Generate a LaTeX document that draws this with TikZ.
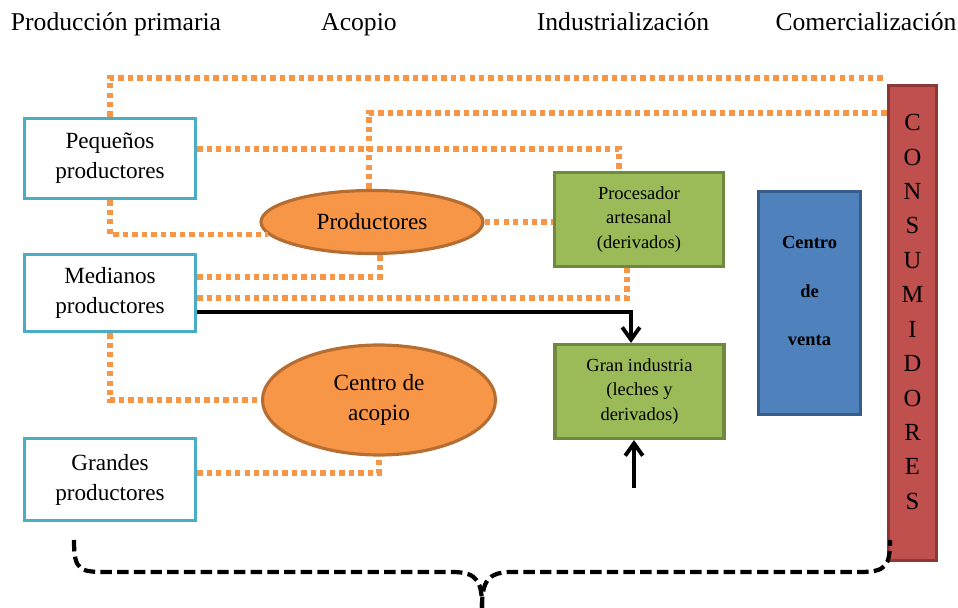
\documentclass[tikz,border=0pt]{standalone}
\usepackage{fontspec}
\setmainfont{Liberation Serif}
\usepackage{xcolor}
\usepackage{tikz}
\usetikzlibrary{arrows.meta,shapes.geometric,calc}

\definecolor{bordeAzul}{HTML}{4BACC6}
\definecolor{naranja}{HTML}{F79646}
\definecolor{bordeNaranja}{HTML}{B66D31}
\definecolor{verde}{HTML}{9BBB59}
\definecolor{bordeVerde}{HTML}{71893F}
\definecolor{azul}{HTML}{4F81BD}
\definecolor{bordeAzulOsc}{HTML}{385D8A}
\definecolor{rojo}{HTML}{C0504D}
\definecolor{bordeRojo}{HTML}{8C3836}

\begin{document}
\begin{tikzpicture}[x=0.02cm, y=-0.02cm,
    etapa/.style={anchor=base, font=\fontsize{14.6}{17}\selectfont},
    productor/.style={draw=bordeAzul, line width=1.8pt, fill=white, minimum width=3.42cm,
        inner sep=0pt, align=center, font=\fontsize{13.2}{17}\selectfont},
    acopio/.style={ellipse, draw=bordeNaranja, line width=1.8pt, fill=naranja, inner sep=0pt,
        align=center, font=\fontsize{13.2}{17.5}\selectfont},
    industria/.style={draw=bordeVerde, line width=1.8pt, fill=verde, minimum width=3.38cm,
        minimum height=1.88cm, inner sep=0pt, align=center, font=\fontsize{10.5}{13.8}\selectfont},
    flujo/.style={draw=naranja, line width=3.1pt, dash pattern=on 3.1pt off 2.3pt},
    directo/.style={draw=black, line width=2.2pt, -{Straight Barb[length=7pt,width=10pt]}}]
    \useasboundingbox (0,0) rectangle (958,608);
    % Etapas
    \node[etapa] (prim) at (116,31) {Producción primaria};
    \node[etapa] (acop) at (359,31) {Acopio};
    \node[etapa] (indu) at (623,31) {Industrialización};
    \node[etapa] (come) at (866,31) {Comercialización};
    % Productores
    \node[productor, minimum height=1.6cm] (peq) at (110,158.5) {Pequeños\\productores};
    \node[productor, minimum height=1.54cm] (med) at (110,293) {Medianos\\productores};
    \node[productor, minimum height=1.64cm] (gra) at (110,479.5) {Grandes\\productores};
    % Acopio
    \node[acopio, minimum width=4.44cm, minimum height=1.26cm] (prod) at (372,222) {Productores};
    \node[acopio, minimum width=4.66cm, minimum height=2.2cm] (cacop) at (379,400) {Centro de\\acopio};
    % Industria
    \node[industria] (proc) at (639,219.5) {Procesador\\artesanal\\(derivados)};
    \node[industria] (gran) at (639.5,391.5) {Gran industria\\(leches y\\derivados)};
    % Comercio
    \node[draw=bordeAzulOsc, line width=1.8pt, fill=azul, minimum width=2.04cm,
        minimum height=4.46cm] (venta) at (809.5,303) {};
    \node[align=center, font=\bfseries\fontsize{10.5}{27.6}\selectfont] (ventatxt)
        at ($(venta.center)+(0,-12)$) {Centro\\de\\venta};
    \node[draw=bordeRojo, line width=1.8pt, fill=rojo, minimum width=0.96cm,
        minimum height=9.5cm] (cons) at (912.5,323) {};
    \node[align=center, font=\fontsize{14}{19.6}\selectfont] (constxt)
        at ($(cons.center)+(0,-11)$) {C\\O\\N\\S\\U\\M\\I\\D\\O\\R\\E\\S};
    \coordinate (arriba) at ($(cons.north west)+(0,-6)$);
    \coordinate (segunda) at ($(cons.north west)+(0,29)$);
    \coordinate (abajo) at (634,488);
    % Edges
    % Pequeños to consumidores
    \draw[flujo] (peq.north) |- (arriba);
    % Productores to consumidores
    \draw[flujo] ($(prod.north)+(-3,0)$) |- (segunda);
    % Pequeños to procesador
    \draw[flujo] ($(peq.east)+(0,-9.5)$) -| ($(proc.north)+(-20,0)$);
    % Pequeños to productores
    \draw[flujo] (peq.south) |- (prod.187);
    % Productores to procesador
    \draw[flujo] (prod.east) -- (prod.east -| proc.west);
    % Medianos to productores
    \draw[flujo] ($(med.east)+(0,-16)$) -| (prod.284);
    % Medianos to procesador
    \draw[flujo] ($(med.east)+(0,5)$) -| ($(proc.south)+(-12,0)$);
    % Medianos to centro de acopio
    \draw[flujo] (med.south) |- (cacop.west);
    % Grandes to centro de acopio
    \draw[flujo] ($(gra.east)+(0,-6.5)$) -| (cacop.south);
    % Medianos to gran industria
    \draw[directo] ($(med.east)+(0,19)$) -| ($(gran.north)+(-8.5,0)$);
    % Into gran industria from below
    \draw[directo] (abajo) -- (abajo |- gran.south);
    % Brace
    \draw[line width=2.4pt, dash pattern=on 6.5pt off 3pt]
        (74,540) .. controls (74,572) and (80,572) .. (110,572) -- (452,572)
        .. controls (478,572) and (482,582) .. (482,608);
    \draw[line width=2.4pt, dash pattern=on 6.5pt off 3pt]
        (482,608) .. controls (482,582) and (487,572) .. (512,572) -- (860,572)
        .. controls (886,572) and (890,566) .. (890,540);
\end{tikzpicture}
\end{document}
